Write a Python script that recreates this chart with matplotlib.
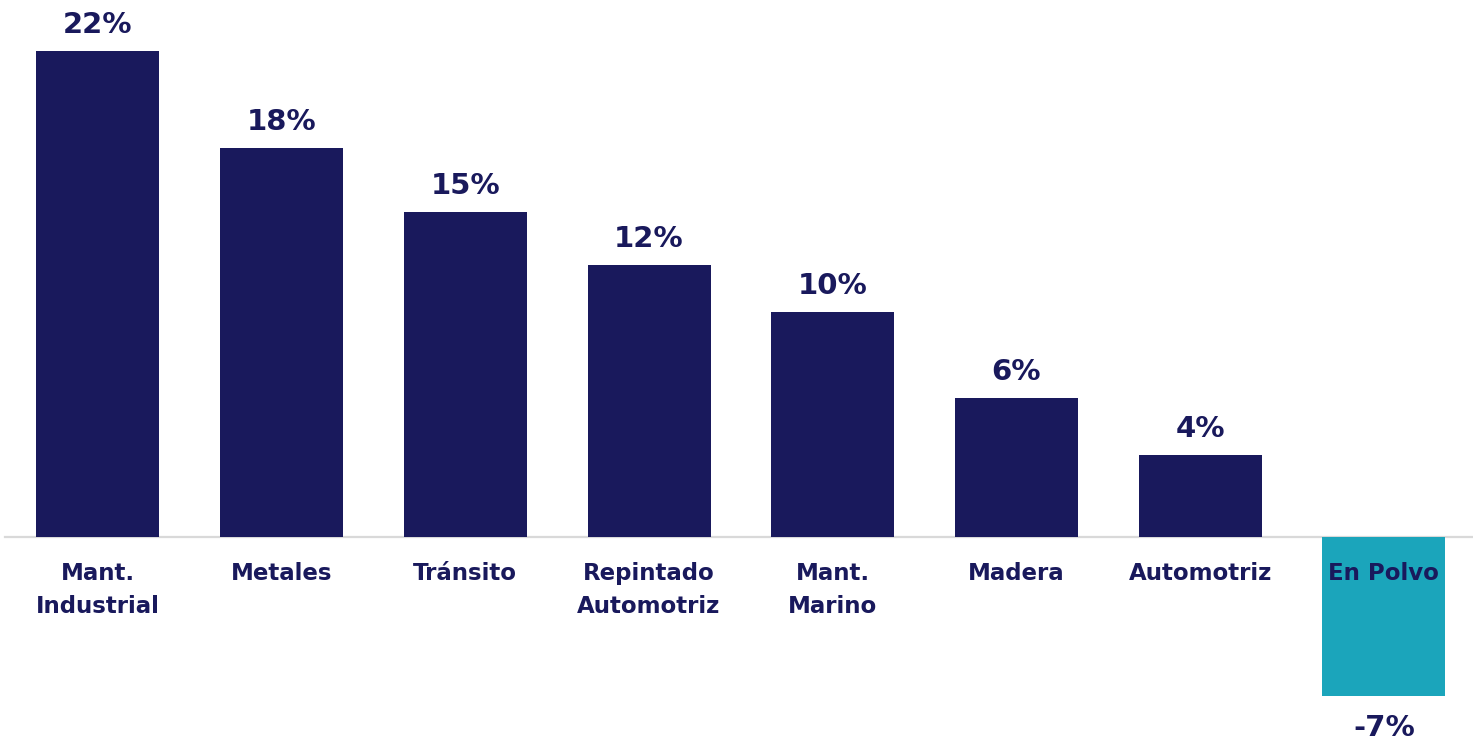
import matplotlib.pyplot as plt

categories = ['Mant.\nIndustrial', 'Metales', 'Tránsito', 'Repintado\nAutomotriz',
              'Mant.\nMarino', 'Madera', 'Automotriz', 'En Polvo']
values = [22.0, 17.6, 14.7, 12.3, 10.2, 6.3, 3.7, -7.2]

navy = '#19195c'
teal = '#1ba5bb'
colors = [navy if v >= 0 else teal for v in values]

fig = plt.figure(figsize=(14.73, 7.40), dpi=100)
ax = fig.add_axes([0, 0, 1, 1])

x = list(range(len(values)))
ax.bar(x, values, width=0.67, color=colors, zorder=2)
ax.axhline(0, xmin=5 / 1473, xmax=1, color='#d9d9d9', lw=1.6, zorder=1)

for xi, v in zip(x, values):
    if v >= 0:
        ax.annotate(f'{v:.0f}%', (xi, v), xytext=(0, 18), textcoords='offset pixels',
                    ha='center', va='baseline', fontsize=21, fontweight='heavy', color=navy)
    else:
        ax.annotate(f'{v:.0f}%', (xi, v), xytext=(0, -18), textcoords='offset pixels',
                    ha='center', va='top', fontsize=21, fontweight='heavy', color=navy)

for xi, cat in zip(x, categories):
    ax.annotate(cat, (xi, 0), xytext=(0, -25), textcoords='offset pixels',
                ha='center', va='top', fontsize=16.5, fontweight='heavy', color=navy,
                linespacing=1.58, zorder=3)

ax.set_xlim(-0.533, 7.485)
ax.set_ylim(-9.19, 24.30)
ax.axis('off')

fig.savefig('out.png', dpi=100)
